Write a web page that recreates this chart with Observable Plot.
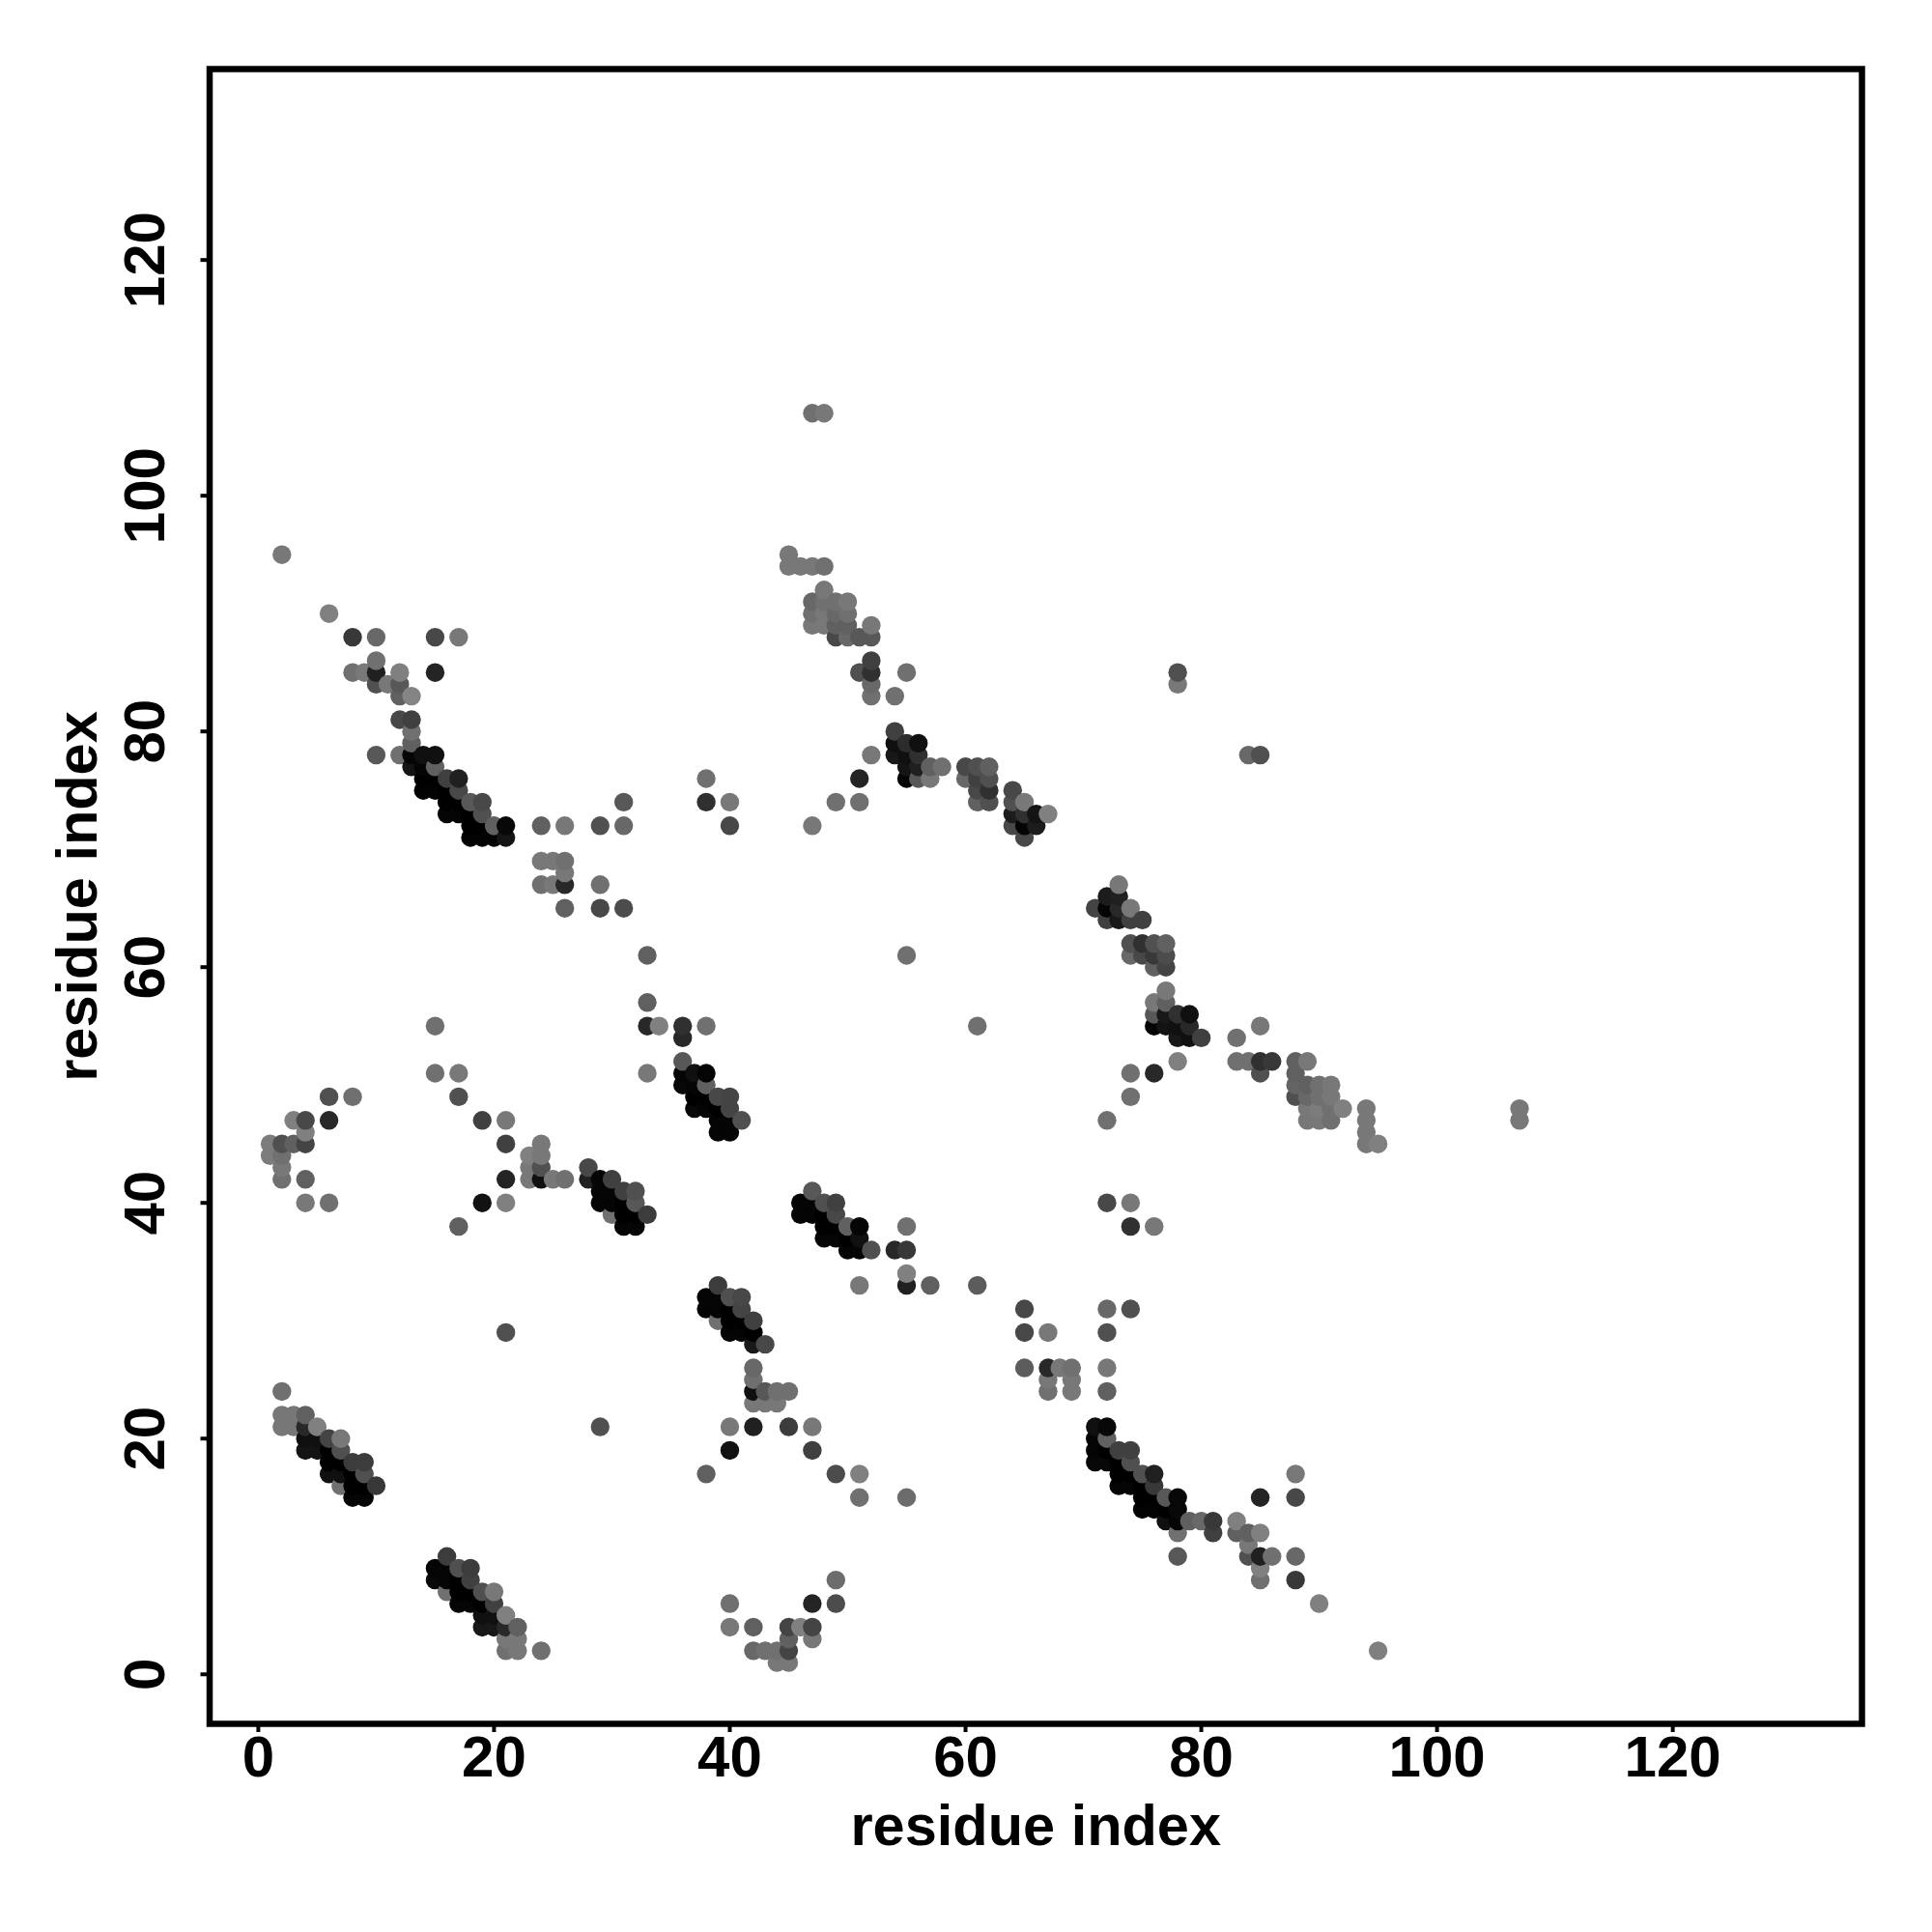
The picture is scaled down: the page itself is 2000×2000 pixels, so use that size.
<!DOCTYPE html>
<html>
<head>
<meta charset="utf-8">
<script src="https://cdn.jsdelivr.net/npm/d3@7"></script>
<script src="https://cdn.jsdelivr.net/npm/@observablehq/plot@0.6"></script>
<style>
html,body{margin:0;padding:0;background:#fff}
svg{display:block}
</style>
</head>
<body>
<div id="chart"></div>
<script>
// [residue x, residue y, grey level]
const lowerLeft = [[2,24,0x70],[2,22,0x77],[3,22,0x77],[4,22,0x60],[2,21,0x77],[3,21,0x77],[4,21,0x28],[5,21,0x80],
[4,20,0x10],[5,20,0x10],[6,20,0x44],[7,20,0x78],[4,19,0x14],[5,19,0x14],[6,19,0x00],[7,19,0x50],
[6,18,0x00],[7,18,0x00],[8,18,0x3c],[9,18,0x3c],[6,17,0x10],[7,17,0x10],[8,17,0x00],[9,17,0x50],
[7,16,0x70],[8,16,0x00],[9,16,0x00],[10,16,0x38],[8,15,0x05],[9,15,0x05]];
const lowerLeft2 = [[16,10,0x3c],[15,9,0x05],[16,9,0x05],[17,9,0x50],[18,9,0x3c],[15,8,0x08],[16,8,0x05],[17,8,0x00],[18,8,0x40],
[16,7,0x70],[17,7,0x00],[18,7,0x00],[19,7,0x50],[20,7,0x78],[17,6,0x05],[18,6,0x05],[19,6,0x00],[20,6,0x40],
[19,5,0x10],[20,5,0x10],[21,5,0x80],[19,4,0x18],[20,4,0x18],[21,4,0x28],[22,4,0x60],[21,3,0x78],[22,3,0x78],
[21,2,0x70],[22,2,0x78],[24,2,0x70],[21,29,0x50],[29,21,0x50]];
const middleLow = [[39,33,0x3c],[38,32,0x05],[39,32,0x05],[40,32,0x50],[41,32,0x48],[38,31,0x05],[39,31,0x05],[40,31,0x00],[41,31,0x44],
[39,30,0x70],[40,30,0x00],[41,30,0x00],[42,30,0x40],[40,29,0x05],[41,29,0x05],[42,29,0x00],[42,28,0x18],[43,28,0x48],
[42,26,0x68],[42,25,0x70],[42,24,0x10],[43,24,0x58],[44,24,0x70],[45,24,0x70],[42,23,0x78],[43,23,0x78],[44,23,0x78],
[40,21,0x78],[42,21,0x20],[45,21,0x3c],[47,21,0x78],[40,19,0x12],[47,19,0x40],[38,17,0x60],[49,17,0x4c],[51,17,0x80],[51,15,0x70],[55,15,0x6c]];
const bottomArc = [[49,8,0x6c],[40,6,0x70],[47,6,0x24],[49,6,0x4c],[40,4,0x78],[42,4,0x60],[45,4,0x44],[46,4,0x80],[47,4,0x44],
[45,3,0x60],[47,3,0x78],[42,2,0x68],[43,2,0x70],[44,2,0x70],[45,2,0x44],[44,1,0x78],[45,1,0x78]];
const lowerRight = [[55,34,0x80],[51,33,0x78],[55,33,0x20],[57,33,0x60],[61,33,0x5c],[65,31,0x48],[65,29,0x48],[67,29,0x78],
[65,26,0x5c],[67,26,0x28],[68,26,0x78],[69,26,0x70],[67,25,0x78],[69,25,0x78],[67,24,0x70],[69,24,0x78],
[72,31,0x68],[74,31,0x50],[72,29,0x50],[72,26,0x78],[72,24,0x60]];
const lowerRight2 = [[71,21,0x10],[72,21,0x08],[71,20,0x05],[72,20,0x60],[71,19,0x05],[72,19,0x00],[73,19,0x40],[74,19,0x40],
[71,18,0x08],[72,18,0x08],[73,18,0x00],[74,18,0x50],[73,17,0x00],[74,17,0x00],[75,17,0x50],[76,17,0x20],
[73,16,0x05],[74,16,0x05],[75,16,0x00],[76,16,0x38],[75,15,0x00],[76,15,0x00],[77,15,0x58],[78,15,0x08],
[75,14,0x03],[76,14,0x03],[77,14,0x00],[78,14,0x08],[77,13,0x10],[78,13,0x05],[79,13,0x60],[80,13,0x68],[81,13,0x38],
[78,12,0x70],[81,12,0x40],[83,13,0x80],[83,12,0x60],[84,12,0x60],[85,12,0x80],[84,11,0x78],
[78,10,0x58],[84,10,0x50],[85,10,0x20],[86,10,0x70],[88,10,0x68],[85,9,0x80],[85,8,0x70],[88,8,0x38],
[90,6,0x80],[95,2,0x80],[85,15,0x24],[88,15,0x48],[88,17,0x78]];
const middleLeft = [[6,49,0x50],[8,49,0x70],[3,47,0x80],[4,47,0x48],[6,47,0x28],[4,46,0x80],[1,45,0x7c],[2,45,0x50],[3,45,0x60],[4,45,0x44],
[1,44,0x7c],[2,44,0x70],[2,43,0x78],[2,42,0x70],[4,42,0x60],[4,40,0x78],[6,40,0x70],
[15,55,0x70],[15,51,0x70],[17,51,0x78],[17,49,0x50],[19,47,0x40],[21,47,0x78],[21,45,0x40],[21,42,0x24],[19,40,0x12],[21,40,0x80],[17,38,0x60],
[24,45,0x78],[23,44,0x80],[24,44,0x78],[23,43,0x78],[24,43,0x50],[23,42,0x78],[24,42,0x10],[25,42,0x78],[26,42,0x70]];
const middleBand = [[28,43,0x48],[28,42,0x20],[29,42,0x05],[30,42,0x40],[29,41,0x05],[30,41,0x05],[31,41,0x40],[32,41,0x50],
[29,40,0x05],[30,40,0x05],[31,40,0x00],[32,40,0x58],[30,39,0x70],[31,39,0x00],[32,39,0x00],[33,39,0x3c],[31,38,0x05],[32,38,0x05],
[33,57,0x60],[33,55,0x28],[34,55,0x80],[36,55,0x30],[38,55,0x70],[36,54,0x28],[36,52,0x58],[33,51,0x78],[36,51,0x05],[37,51,0x10],[38,51,0x05],
[36,50,0x08],[37,50,0x05],[38,50,0x60],[37,49,0x00],[38,49,0x00],[39,49,0x48],[40,49,0x44],[37,48,0x08],[38,48,0x05],[39,48,0x00],[40,48,0x44],
[39,47,0x05],[40,47,0x05],[41,47,0x50],[39,46,0x05],[40,46,0x05],[61,55,0x70]];
const middleBand2 = [[47,41,0x58],[46,40,0x05],[47,40,0x05],[48,40,0x50],[49,40,0x40],[46,39,0x05],[47,39,0x05],[48,39,0x00],[49,39,0x48],
[48,38,0x00],[49,38,0x00],[50,38,0x60],[51,38,0x05],[48,37,0x05],[49,37,0x05],[50,37,0x00],[51,37,0x10],
[50,36,0x05],[51,36,0x05],[52,36,0x50],[54,36,0x28],[55,36,0x38],[55,38,0x70]];
const upperRight = [[73,67,0x78],[72,66,0x1c],[73,66,0x20],[71,65,0x44],[72,65,0x05],[73,65,0x28],[74,65,0x78],[72,64,0x40],[73,64,0x18],[74,64,0x40],[75,64,0x40],
[74,62,0x50],[75,62,0x30],[76,62,0x50],[77,62,0x60],[74,61,0x68],[75,61,0x48],[76,61,0x38],[77,61,0x4c],[76,60,0x60],[77,60,0x44],
[77,58,0x78],[76,57,0x78],[77,57,0x60],[76,56,0x58],[77,56,0x18],[78,56,0x30],[79,56,0x10],[76,55,0x05],[77,55,0x14],[78,55,0x10],[79,55,0x28],
[78,54,0x18],[79,54,0x10],[80,54,0x40],[78,52,0x80],[74,51,0x70],[76,51,0x28],[74,49,0x70],[72,47,0x70],
[72,40,0x48],[74,40,0x78],[74,38,0x30],[76,38,0x78]];
const farRight = [[83,54,0x70],[85,55,0x78],[83,52,0x70],[84,52,0x70],[85,52,0x30],[86,52,0x38],[88,52,0x60],[89,52,0x78],[85,51,0x50],[88,51,0x60],
[88,50,0x64],[89,50,0x60],[90,50,0x70],[91,50,0x78],[88,49,0x50],[89,49,0x68],[90,49,0x70],[91,49,0x78],
[89,48,0x78],[90,48,0x7c],[91,48,0x70],[92,48,0x80],[89,47,0x78],[90,47,0x78],[91,47,0x70],
[94,48,0x78],[94,47,0x78],[94,46,0x78],[94,45,0x78],[95,45,0x80],[107,48,0x78],[107,47,0x78],
[84,78,0x68],[85,78,0x50],[78,85,0x50],[78,84,0x78]];
const upperLeft = [[2,95,0x78],[6,90,0x80],[8,88,0x38],[10,88,0x68],[15,88,0x48],[17,88,0x78],[10,86,0x70],[8,85,0x70],[9,85,0x78],[10,85,0x20],[12,85,0x80],[15,85,0x24],
[10,84,0x50],[11,84,0x78],[12,84,0x58],[12,83,0x60],[13,83,0x84],[12,81,0x48],[13,81,0x40],[13,80,0x70],[13,79,0x60],
[10,78,0x58],[12,78,0x70],[13,78,0x05],[14,78,0x10],[15,78,0x10],[13,77,0x14],[14,77,0x05],[15,77,0x60],
[14,76,0x00],[15,76,0x00],[16,76,0x40],[17,76,0x20],[14,75,0x03],[15,75,0x03],[16,75,0x00],[17,75,0x48],
[16,74,0x00],[17,74,0x00],[18,74,0x58],[19,74,0x48],[16,73,0x05],[17,73,0x05],[18,73,0x00],[19,73,0x50],
[18,72,0x00],[19,72,0x00],[20,72,0x60],[21,72,0x08],[18,71,0x03],[19,71,0x03],[20,71,0x03],[21,71,0x14]];
const upperMiddle = [[31,74,0x58],[24,72,0x60],[26,72,0x78],[29,72,0x50],[31,72,0x68],[24,69,0x78],[25,69,0x78],[26,69,0x70],[26,68,0x78],
[24,67,0x70],[25,67,0x78],[26,67,0x28],[29,67,0x70],[26,65,0x60],[29,65,0x48],[31,65,0x4c],
[38,76,0x70],[38,74,0x30],[40,74,0x78],[40,72,0x48],[33,61,0x60],[55,61,0x70]];
const topCluster = [[47,107,0x70],[48,107,0x78],[45,95,0x78],[45,94,0x78],[46,94,0x78],[47,94,0x78],[48,94,0x70],[48,92,0x78],
[47,91,0x68],[48,91,0x70],[49,91,0x70],[50,91,0x78],[47,90,0x70],[48,90,0x78],[49,90,0x68],[50,90,0x70],
[47,89,0x78],[48,89,0x78],[49,89,0x60],[50,89,0x60],[52,89,0x78],[49,88,0x48],[50,88,0x68],[51,88,0x58],[52,88,0x58],
[52,86,0x40],[51,85,0x50],[52,85,0x30],[55,85,0x70],[52,84,0x68],[52,83,0x70],[54,83,0x70]];
const rightBand = [[54,80,0x40],[54,79,0x10],[55,79,0x2c],[56,79,0x10],[52,78,0x78],[54,78,0x18],[55,78,0x10],[56,78,0x30],
[55,77,0x14],[56,77,0x20],[57,77,0x60],[58,77,0x70],[60,77,0x48],[61,77,0x50],[62,77,0x60],
[51,76,0x24],[55,76,0x05],[56,76,0x58],[57,76,0x78],[60,76,0x68],[61,76,0x40],[62,76,0x50],[61,75,0x48],[62,75,0x30],
[49,74,0x70],[51,74,0x70],[61,74,0x60],[62,74,0x50],[64,75,0x48],[64,74,0x50],[65,74,0x78],
[64,73,0x1c],[65,73,0x30],[66,73,0x14],[67,73,0x80],[64,72,0x48],[65,72,0x05],[66,72,0x1c],[65,71,0x48],[47,72,0x78]];

const contacts = d3.sort(
  [lowerLeft, lowerLeft2, middleLow, bottomArc, lowerRight, lowerRight2, middleLeft, middleBand, middleBand2,
   upperRight, farRight, upperLeft, upperMiddle, topCluster, rightBand].flat(),
  d => d[0], d => d[1]
).map(([x, y, level]) => ({x, y, level}));

const tickValues = [0, 20, 40, 60, 80, 100, 120];
const axisLabel = "residue index";
const font = "'Liberation Sans', Arial, sans-serif";

const chart = Plot.plot({
  width: 2000,
  height: 2000,
  marginLeft: 216.5,
  marginRight: 73,
  marginTop: 71,
  marginBottom: 216,
  style: {background: "#fff", fontFamily: font, fontWeight: "bold", color: "#000"},
  x: {domain: [-4.13, 136.05]},
  y: {domain: [-4.2, 136.2]},
  color: {type: "linear", domain: [0, 255], range: ["#000", "#fff"]},
  marks: [
    Plot.dot(contacts, {x: "x", y: "y", r: 9.7, fill: "level", stroke: "none"}),
    Plot.frame({stroke: "#000", strokeWidth: 6.5}),
    Plot.axisX({
      ticks: tickValues, tickSize: 9, tickPadding: 3, strokeWidth: 4, fontSize: 60, fontWeight: "bold",
      label: null
    }),
    Plot.axisY({
      ticks: tickValues, tickSize: 9, tickPadding: 38, strokeWidth: 4, fontSize: 60, fontWeight: "bold",
      tickRotate: -90, label: null
    }),
    Plot.text([axisLabel], {
      frameAnchor: "bottom", dy: 125, fontSize: 59.5, fontWeight: "bold", fill: "#000", lineAnchor: "bottom"
    }),
    Plot.text([axisLabel], {
      frameAnchor: "left", dx: -136, rotate: -90, fontSize: 59.5, fontWeight: "bold", fill: "#000", textAnchor: "middle"
    })
  ]
});
document.getElementById("chart").appendChild(chart);
</script>
</body>
</html>
